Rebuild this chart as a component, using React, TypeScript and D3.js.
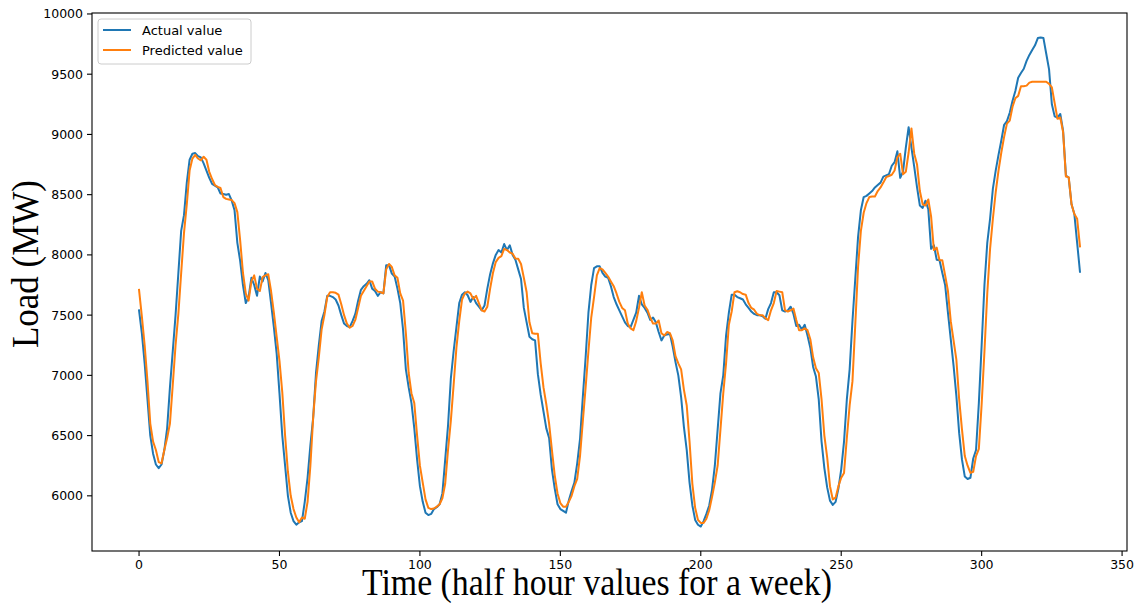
import React from 'react';
import * as d3 from 'd3';

// half-hour load readings for one week (MW)
const actualValues = [
  7540, 7350, 7100, 6800, 6500, 6350, 6260, 6230, 6260, 6380,
  6560, 6900, 7200, 7500, 7850, 8200, 8330, 8600, 8790, 8840,
  8845, 8820, 8810, 8760, 8700, 8640, 8590, 8575, 8560, 8510,
  8505, 8500, 8505, 8450, 8370, 8100, 7950, 7750, 7600, 7650,
  7810, 7750, 7660, 7820, 7780, 7850, 7790, 7600, 7400, 7180,
  6850, 6500, 6250, 6000, 5860, 5790, 5760, 5780, 5790, 5950,
  6150, 6420, 6650, 7020, 7250, 7450, 7530, 7660, 7660, 7650,
  7630, 7580, 7500, 7430, 7410, 7400, 7450, 7510, 7620, 7710,
  7740, 7760, 7790, 7720, 7700, 7660, 7690, 7680, 7915, 7915,
  7845, 7820, 7720, 7600, 7380, 7050, 6900, 6770, 6560, 6300,
  6080, 5950, 5860, 5840, 5850, 5890, 5905, 5930, 6020, 6300,
  6580, 6970, 7200, 7400, 7600, 7670, 7690, 7665, 7610, 7650,
  7600, 7570, 7540, 7580, 7720, 7840, 7930, 8000, 8040, 8020,
  8090, 8040, 8080, 8000, 7960, 7880, 7800, 7560, 7440, 7320,
  7300, 7290, 7010, 6840, 6700, 6560, 6480, 6220, 6060, 5930,
  5890, 5875, 5860, 5960, 6040, 6110, 6270, 6470, 6820, 7150,
  7520, 7750, 7890, 7905, 7905, 7850, 7820, 7810, 7740, 7650,
  7590, 7540, 7490, 7440, 7410, 7400, 7460, 7520, 7660, 7590,
  7560, 7520, 7460, 7480, 7440, 7360, 7290, 7330, 7340, 7345,
  7240, 7110, 7000, 6820, 6570, 6380, 6110, 5920, 5800, 5760,
  5745, 5790, 5850, 5920, 6050, 6250, 6550, 6850, 7000, 7330,
  7520, 7670, 7670, 7650, 7640, 7630, 7590, 7560, 7530, 7510,
  7500, 7500, 7490, 7470, 7550, 7600, 7690, 7690, 7665, 7540,
  7530, 7540, 7570, 7510, 7410, 7420, 7380, 7420, 7330, 7230,
  7070, 6990, 6800, 6450, 6230, 6070, 5960, 5925, 5950, 6060,
  6220, 6450, 6800, 7050, 7450, 7800, 8150, 8370, 8480, 8490,
  8510, 8530, 8560, 8580, 8600, 8650, 8660, 8670, 8740, 8770,
  8860, 8640, 8690, 8890, 9060, 8890, 8730, 8560, 8410, 8390,
  8450, 8380, 8050, 8080, 7960, 7955, 7850, 7750, 7520, 7300,
  7080, 6830, 6520, 6300, 6160, 6140, 6150, 6310, 6380, 6770,
  7250, 7750, 8100, 8300, 8550, 8700, 8830, 8950, 9080, 9110,
  9180, 9280, 9360, 9470, 9510, 9545, 9610, 9660, 9700, 9740,
  9800, 9805, 9800, 9670, 9540, 9250, 9150, 9140, 9170, 9030,
  8660, 8640, 8420, 8340, 8100, 7860,
];

const predictedValues = [
  7710, 7490, 7250, 6950, 6600, 6450, 6380, 6280, 6270, 6380,
  6480, 6600, 6920, 7250, 7510, 7850, 8180, 8420, 8700, 8800,
  8830, 8800, 8785, 8815, 8790, 8690, 8630, 8580, 8565, 8555,
  8480, 8465, 8460, 8455, 8430, 8355, 8120, 7850, 7680, 7620,
  7780, 7830, 7720, 7700, 7815, 7830, 7840, 7700, 7520, 7320,
  7120, 6860, 6500, 6200, 6000, 5890, 5820, 5780, 5820, 5810,
  5950, 6250, 6650, 6950, 7150, 7380, 7500, 7650, 7690, 7690,
  7685, 7670, 7590, 7500, 7430, 7395, 7410, 7460, 7560, 7660,
  7700, 7740, 7780, 7780, 7720, 7695, 7690, 7680, 7880, 7925,
  7900, 7830, 7810, 7680, 7620, 7350, 7020, 6850, 6770, 6500,
  6250, 6110, 5970, 5900, 5890, 5895, 5910, 5930, 5980, 6100,
  6380, 6620, 6920, 7230, 7450, 7630, 7680, 7695, 7680, 7635,
  7660, 7600, 7540, 7530, 7570, 7720, 7850, 7940, 7975, 7990,
  8050, 8040, 8020, 8010, 7970, 7968, 7925, 7810, 7690, 7440,
  7350, 7345, 7345, 7100, 6900, 6760, 6600, 6380, 6170, 6020,
  5940, 5910, 5910, 5950, 6000, 6080, 6140, 6330, 6620, 6900,
  7200, 7480, 7650, 7830, 7890, 7880, 7850, 7820, 7780, 7740,
  7680, 7610, 7560, 7540, 7430, 7390, 7375, 7450, 7560, 7690,
  7580, 7545, 7480, 7430, 7430, 7455, 7350, 7330, 7360, 7350,
  7290, 7160, 7100, 7050, 6880, 6750, 6450, 6100, 5900, 5800,
  5775, 5775, 5810, 5880, 5990, 6110, 6250, 6550, 6850, 7100,
  7420, 7530, 7690, 7698, 7690, 7675, 7670, 7600, 7560, 7545,
  7510, 7500, 7499, 7475, 7458, 7540, 7600, 7700, 7695, 7690,
  7540, 7530, 7540, 7555, 7460, 7375, 7375, 7390, 7375, 7300,
  7150, 7060, 7020, 6800, 6500, 6320, 6080, 5970, 5985, 6080,
  6150, 6190, 6480, 6750, 6950, 7420, 7900, 8200, 8350, 8430,
  8480, 8485, 8485, 8530, 8560, 8600, 8645, 8655, 8665, 8700,
  8810, 8840, 8670, 8690, 8850, 9050, 8840, 8750, 8530, 8420,
  8410, 8460, 8320, 8040, 8060, 7955, 7955, 7830, 7700, 7450,
  7290, 7130, 6800, 6550, 6330, 6250, 6190, 6200, 6330, 6390,
  6760, 7200, 7680, 8050, 8300, 8520, 8700, 8850, 8980, 9090,
  9115, 9230, 9300, 9320, 9400, 9400, 9405, 9430, 9437, 9437,
  9437, 9437, 9437, 9437, 9420, 9390, 9260, 9130, 9140, 9020,
  8650, 8645, 8420, 8340, 8300, 8070,
];

const seriesNames = ['Actual value', 'Predicted value'];
const seriesColors = ['#1f77b4', '#ff7f0e'];
const xTicks = [0, 50, 100, 150, 200, 250, 300, 350];
const yTicks = [6000, 6500, 7000, 7500, 8000, 8500, 9000, 9500, 10000];

const App = () => {
  const width = 1142;
  const height = 603;
  const margin = { top: 13, right: 15, bottom: 52, left: 92 };
  const tickFont = '"DejaVu Sans", sans-serif';

  // matplotlib style 5% margins around the data
  const n = actualValues.length - 1;
  const allValues = actualValues.concat(predictedValues);
  const yMin = d3.min(allValues);
  const yMax = d3.max(allValues);
  const yPad = (yMax - yMin) * 0.05;

  const x = d3.scaleLinear()
    .domain([-n * 0.05, n * 1.05])
    .range([margin.left, width - margin.right]);
  const y = d3.scaleLinear()
    .domain([yMin - yPad, yMax + yPad])
    .range([height - margin.bottom, margin.top]);

  const line = d3.line<number>()
    .x((d, i) => x(i))
    .y(d => y(d));

  const series = [actualValues, predictedValues];
  const bottom = height - margin.bottom;

  return (
    <svg width={width} height={height}
      style={{ position: 'absolute', left: 0, top: 0, background: '#fff' }}>
      <rect x={0} y={0} width={width} height={height} fill="#fff" />

      {series.map((s, k) => (
        <path key={k} d={line(s)} fill="none" stroke={seriesColors[k]}
          strokeWidth={2} strokeLinejoin="round" strokeLinecap="square" />
      ))}

      {/* spines */}
      <rect x={margin.left} y={margin.top}
        width={width - margin.left - margin.right}
        height={height - margin.top - margin.bottom}
        fill="none" stroke="#000" strokeWidth={1.1} />

      {/* x axis */}
      {xTicks.map(t => (
        <g key={t}>
          <line x1={x(t)} x2={x(t)} y1={bottom} y2={bottom + 5} stroke="#000" strokeWidth={1.1} />
          <text x={x(t)} y={bottom + 18} textAnchor="middle" fontFamily={tickFont} fontSize={12.5} fill="#000">{t}</text>
        </g>
      ))}

      {/* y axis */}
      {yTicks.map(t => (
        <g key={t}>
          <line x1={margin.left - 5} x2={margin.left} y1={y(t)} y2={y(t)} stroke="#000" strokeWidth={1.1} />
          <text x={margin.left - 9} y={y(t)} dy="0.36em" textAnchor="end" fontFamily={tickFont} fontSize={12.5} fill="#000">{t}</text>
        </g>
      ))}

      {/* axis labels */}
      <text x={597} y={595} textAnchor="middle" fontFamily='"Liberation Serif", serif'
        fontSize={38} textLength={470} lengthAdjust="spacingAndGlyphs" fill="#000">
        Time (half hour values for a week)
      </text>
      <text transform="translate(38,264) rotate(-90)" textAnchor="middle"
        fontFamily='"Liberation Serif", serif' fontSize={38} textLength={168}
        lengthAdjust="spacingAndGlyphs" fill="#000">
        Load (MW)
      </text>

      {/* legend */}
      <g>
        <rect x={98} y={19} width={153} height={45} rx={3} fill="#fff" fillOpacity={0.8}
          stroke="#cccccc" strokeWidth={1} />
        {seriesNames.map((name, k) => (
          <g key={name}>
            <line x1={103} x2={131} y1={30 + k * 20} y2={30 + k * 20}
              stroke={seriesColors[k]} strokeWidth={2} />
            <text x={142} y={35 + k * 20} fontFamily={tickFont} fontSize={13} fill="#000">{name}</text>
          </g>
        ))}
      </g>
    </svg>
  );
};

export default App;
